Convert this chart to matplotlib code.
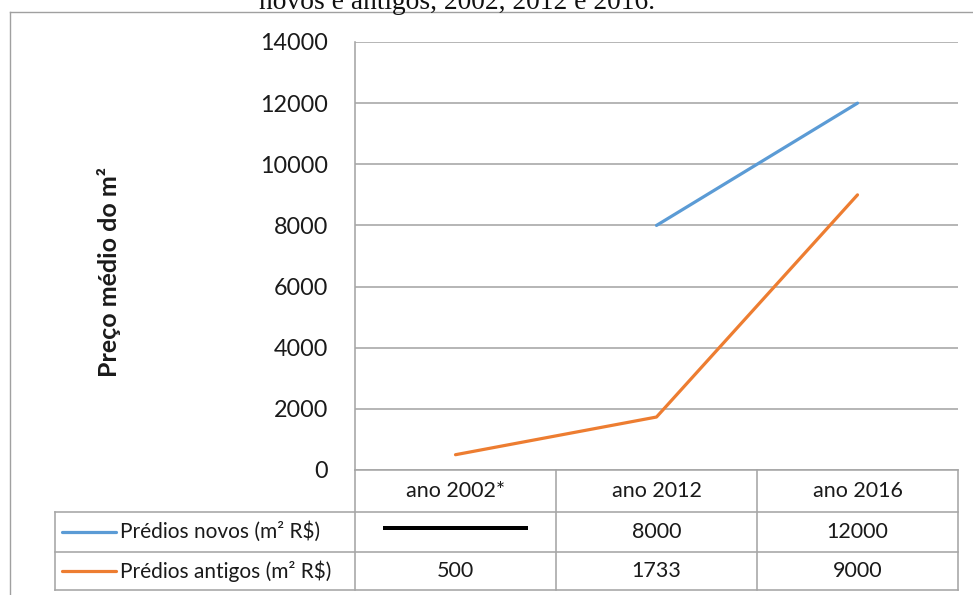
import matplotlib
matplotlib.use('Agg')
import matplotlib.pyplot as plt
import matplotlib.transforms as mtransforms
from matplotlib.lines import Line2D

###############################################################################
# data:

categories = ['ano 2002*', 'ano 2012', 'ano 2016']
novos = [None, 8000, 12000]
antigos = [500, 1733, 9000]
series_names = ['Prédios novos (m² R$)', 'Prédios antigos (m² R$)']
yticks = [0, 2000, 4000, 6000, 8000, 10000, 12000, 14000]
title_tail = 'novos e antigos, 2002, 2012 e 2016.'
ylabel = 'Preço médio do m²'

###############################################################################
# style:

W, H = 973, 595
blue = '#5B9BD5'
orange = '#ED7D31'
grid_c = '#A6A6A6'
frame_c = '#A0A0A0'
txt_c = '#1a1a1a'
font = 'Lato'

def px(v):
    # pixels -> points at 100 dpi
    return v * 72.0 / 100.0

fig = plt.figure(figsize=(W / 100, H / 100), dpi=100)

# pixel coords (origin top-left) -> figure
pix = mtransforms.Affine2D().scale(1.0 / W, -1.0 / H).translate(0, 1) + fig.transFigure

# plot area in pixels
x0, x1, y_top, y_bot = 355, 958, 42, 470
ax = fig.add_axes([x0 / W, 1 - y_bot / H, (x1 - x0) / W, (y_bot - y_top) / H])

xs = list(range(len(categories)))
nx = [x for x, v in zip(xs, novos) if v is not None]
nv = [v for v in novos if v is not None]
ax.plot(nx, nv, color=blue, lw=px(3.2), solid_capstyle='round', zorder=3)
ax.plot(xs, antigos, color=orange, lw=px(3.2), solid_capstyle='round', zorder=3)

ax.set_xlim(-0.5, len(categories) - 0.5)
ax.set_ylim(yticks[0], yticks[-1])
ax.set_yticks(yticks)
ax.set_yticklabels([str(t) for t in yticks], fontsize=16.8, family=font, color=txt_c)
ax.tick_params(axis='y', length=0, pad=px(27))
ax.set_xticks([])
ax.grid(axis='y', color=grid_c, lw=px(1.6))
ax.set_axisbelow(True)
for s in ['top', 'right', 'bottom']:
    ax.spines[s].set_visible(False)
ax.spines['left'].set_color(grid_c)
ax.spines['left'].set_linewidth(px(1.6))

fig.text(109 / W, 1 - 272 / H, ylabel, rotation=90, ha='center', va='center',
         fontsize=18, fontweight='bold', family=font, color=txt_c)

# cut-off caption at the very top
fig.text(457 / W, 1 - 9 / H, title_tail, ha='center', va='baseline',
         fontsize=19.8, family='Liberation Serif', color='#111111')

# outer chart frame (runs off the right and bottom edges)
fig.add_artist(Line2D([10, 10], [12, H + 5], transform=pix, color=frame_c, lw=px(1.4)))
fig.add_artist(Line2D([10, W + 5], [12, 12], transform=pix, color=frame_c, lw=px(1.4)))

###############################################################################
# data table under the axis (x follows the category scale):

tab = mtransforms.blended_transform_factory(ax.transData, pix)
row_y = [470, 512, 552, 590]
lab_left = 55
tl = dict(color=grid_c, lw=px(1.6), zorder=1)

# horizontal rules
fig.add_artist(Line2D([-0.5, 2.5], [row_y[0], row_y[0]], transform=tab, **tl))
for y in row_y[1:]:
    fig.add_artist(Line2D([lab_left, x1], [y, y], transform=pix, **tl))
# vertical rules
for b in [-0.5, 0.5, 1.5, 2.5]:
    fig.add_artist(Line2D([b, b], [row_y[0], row_y[-1]], transform=tab, **tl))
fig.add_artist(Line2D([lab_left, lab_left], [row_y[1], row_y[-1]], transform=pix, **tl))

cell_fs = 15.5
mid = [(row_y[i] + row_y[i + 1]) / 2 for i in range(3)]
for x, c in zip(xs, categories):
    fig.text(x, mid[0], c, transform=tab, ha='center', va='center',
             fontsize=cell_fs, family=font, color=txt_c)

for r, (name, vals, col) in enumerate(zip(series_names, [novos, antigos], [blue, orange])):
    y = mid[r + 1]
    fig.add_artist(Line2D([62, 116], [y, y], transform=pix, color=col, lw=px(3.2),
                          solid_capstyle='round'))
    fig.text(120 / W, 1 - y / H, name, ha='left', va='center',
             fontsize=cell_fs - 0.5, family=font, color=txt_c)
    for x, v in zip(xs, vals):
        if v is None:
            # missing value shown as a black bar
            fig.add_artist(Line2D([x - 0.35, x + 0.35], [y - 4, y - 4], transform=tab,
                                  color='black', lw=px(4)))
        else:
            fig.text(x, y, str(v), transform=tab, ha='center', va='center',
                     fontsize=cell_fs, family=font, color=txt_c)

fig.savefig('out.png', dpi=100)
